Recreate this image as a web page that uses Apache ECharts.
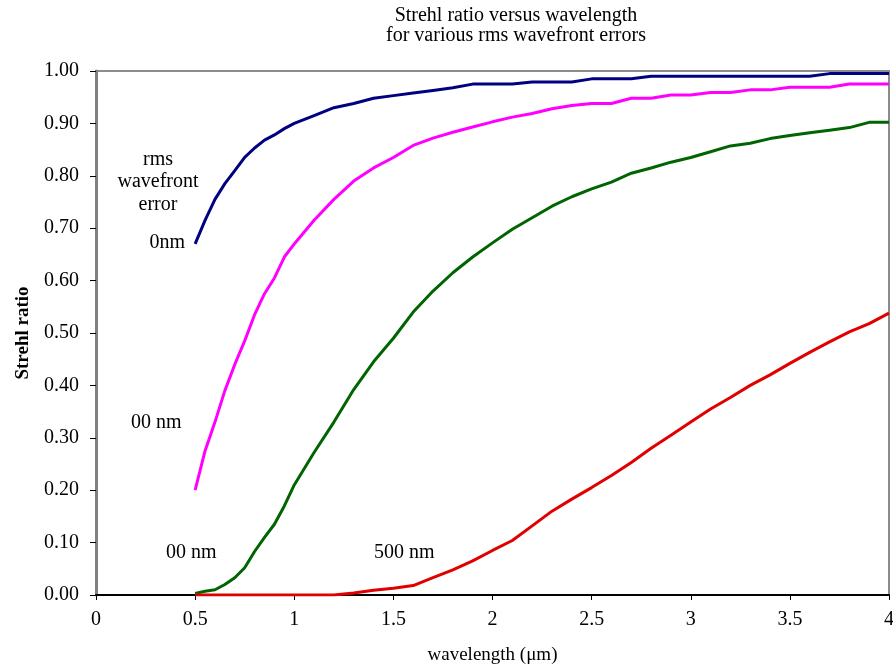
<!DOCTYPE html>
<html>
<head>
<meta charset="utf-8">
<script src="https://cdn.jsdelivr.net/npm/echarts@6/dist/echarts.min.js"></script>
<style>
  html, body { margin: 0; padding: 0; background: #fff; }
  #chart { width: 893px; height: 668px; }
</style>
</head>
<body>
<div id="chart"></div>
<script>
// wavelength samples (µm)
const wavelength = [0.5, 0.55, 0.6, 0.65, 0.7, 0.75, 0.8, 0.85, 0.9, 0.95, 1.0,
  1.1, 1.2, 1.3, 1.4, 1.5, 1.6, 1.7, 1.8, 1.9, 2.0,
  2.1, 2.2, 2.3, 2.4, 2.5, 2.6, 2.7, 2.8, 2.9, 3.0,
  3.1, 3.2, 3.3, 3.4, 3.5, 3.6, 3.7, 3.8, 3.9, 4.0]

// Strehl ratio per rms wavefront error
const strehl0nm = [0.67, 0.715, 0.755, 0.785, 0.81, 0.835, 0.853, 0.868, 0.878, 0.89, 0.90,
  0.915, 0.93, 0.938, 0.948, 0.953, 0.958, 0.963, 0.968, 0.975, 0.975,
  0.975, 0.979, 0.979, 0.979, 0.985, 0.985, 0.985, 0.99, 0.99, 0.99,
  0.99, 0.99, 0.99, 0.99, 0.99, 0.99, 0.995, 0.995, 0.995, 0.995]
const strehl100nm = [0.20, 0.275, 0.33, 0.39, 0.44, 0.485, 0.535, 0.575, 0.605, 0.645, 0.67,
  0.715, 0.755, 0.79, 0.815, 0.835, 0.858, 0.872, 0.883, 0.893, 0.903,
  0.912, 0.919, 0.928, 0.934, 0.938, 0.938, 0.948, 0.948, 0.954, 0.954,
  0.959, 0.959, 0.964, 0.964, 0.969, 0.969, 0.969, 0.975, 0.975, 0.975]
const strehl200nm = [0.003, 0.007, 0.01, 0.02, 0.033, 0.052, 0.083, 0.11, 0.135, 0.17, 0.21,
  0.272, 0.33, 0.392, 0.445, 0.49, 0.54, 0.58, 0.615, 0.645, 0.672,
  0.698, 0.72, 0.742, 0.76, 0.775, 0.788, 0.805, 0.815, 0.826, 0.835,
  0.846, 0.857, 0.862, 0.871, 0.877, 0.882, 0.887, 0.892, 0.902, 0.902]
const strehl500nm = [0, 0, 0, 0, 0, 0, 0, 0, 0, 0, 0,
  0, 0, 0.004, 0.009, 0.013, 0.018, 0.033, 0.048, 0.065, 0.085,
  0.104, 0.132, 0.16, 0.183, 0.205, 0.228, 0.253, 0.28, 0.305, 0.33,
  0.355, 0.377, 0.40, 0.42, 0.442, 0.463, 0.483, 0.502, 0.518, 0.538]

const seriesNames = ['0nm', '100 nm', '200 nm', '500 nm']
const seriesColors = ['#000080', '#ff00ff', '#006400', '#e00000']

const font = 'Liberation Serif, Times New Roman, serif'
const pair = ys => wavelength.map((x, i) => [x, ys[i]])

const chart = echarts.init(document.getElementById('chart'))

const lineSeries = [strehl0nm, strehl100nm, strehl200nm, strehl500nm].map((ys, i) => ({
  name: seriesNames[i],
  type: 'line',
  data: pair(ys),
  showSymbol: false,
  lineStyle: { color: seriesColors[i], width: 3 },
  itemStyle: { color: seriesColors[i] },
  z: 3
}))

// annotation text, placed in pixels
const note = (text, x, y, align) => ({
  type: 'text', x, y,
  style: { text, font: '20px ' + font, fill: '#000', align: align, verticalAlign: 'middle' }
})

chart.setOption({
  animation: false,
  backgroundColor: '#fff',
  title: {
    text: 'Strehl ratio versus wavelength\nfor various rms wavefront errors',
    left: 511, top: 1, textAlign: 'center',
    textStyle: { fontFamily: font, fontSize: 20, fontWeight: 'normal', color: '#000', lineHeight: 20 }
  },
  grid: {
    left: 96, right: 4, top: 71, bottom: 73,
    outerBoundsMode: 'none', containLabel: false,
    show: true, borderColor: '#8c8c8c', borderWidth: 2, backgroundColor: '#fff'
  },
  xAxis: {
    type: 'value', min: 0, max: 4, interval: 0.5,
    name: 'wavelength (\u03bcm)', nameLocation: 'middle', nameGap: 51,
    nameTextStyle: { fontFamily: font, fontSize: 19, color: '#000' },
    axisLine: { lineStyle: { color: '#000', width: 2 } },
    axisTick: { show: true, length: 5, inside: false, lineStyle: { color: '#000' } },
    axisLabel: { fontFamily: font, fontSize: 20, color: '#000', margin: 15 },
    splitLine: { show: false }
  },
  yAxis: {
    type: 'value', min: 0, max: 1, interval: 0.1,
    name: 'Strehl ratio', nameLocation: 'middle', nameGap: 63, nameRotate: 90,
    nameTextStyle: { fontFamily: font, fontSize: 19, fontWeight: 'bold', color: '#000' },
    axisLine: { show: true, lineStyle: { color: '#808080', width: 3 } },
    axisTick: { show: true, length: 6, lineStyle: { color: '#000' } },
    axisLabel: { fontFamily: font, fontSize: 20, color: '#000', margin: 17, formatter: v => v.toFixed(2) },
    splitLine: { show: false }
  },
  series: lineSeries,
  graphic: [
    note('rms', 158, 160, 'center'),
    note('wavefront', 158, 182, 'center'),
    note('error', 158, 205, 'center'),
    note('0nm', 185, 243, 'right'),
    note('00 nm', 131, 423, 'left'),
    note('00 nm', 166, 553, 'left'),
    note('500 nm', 374, 553, 'left')
  ]
})
</script>
</body>
</html>
